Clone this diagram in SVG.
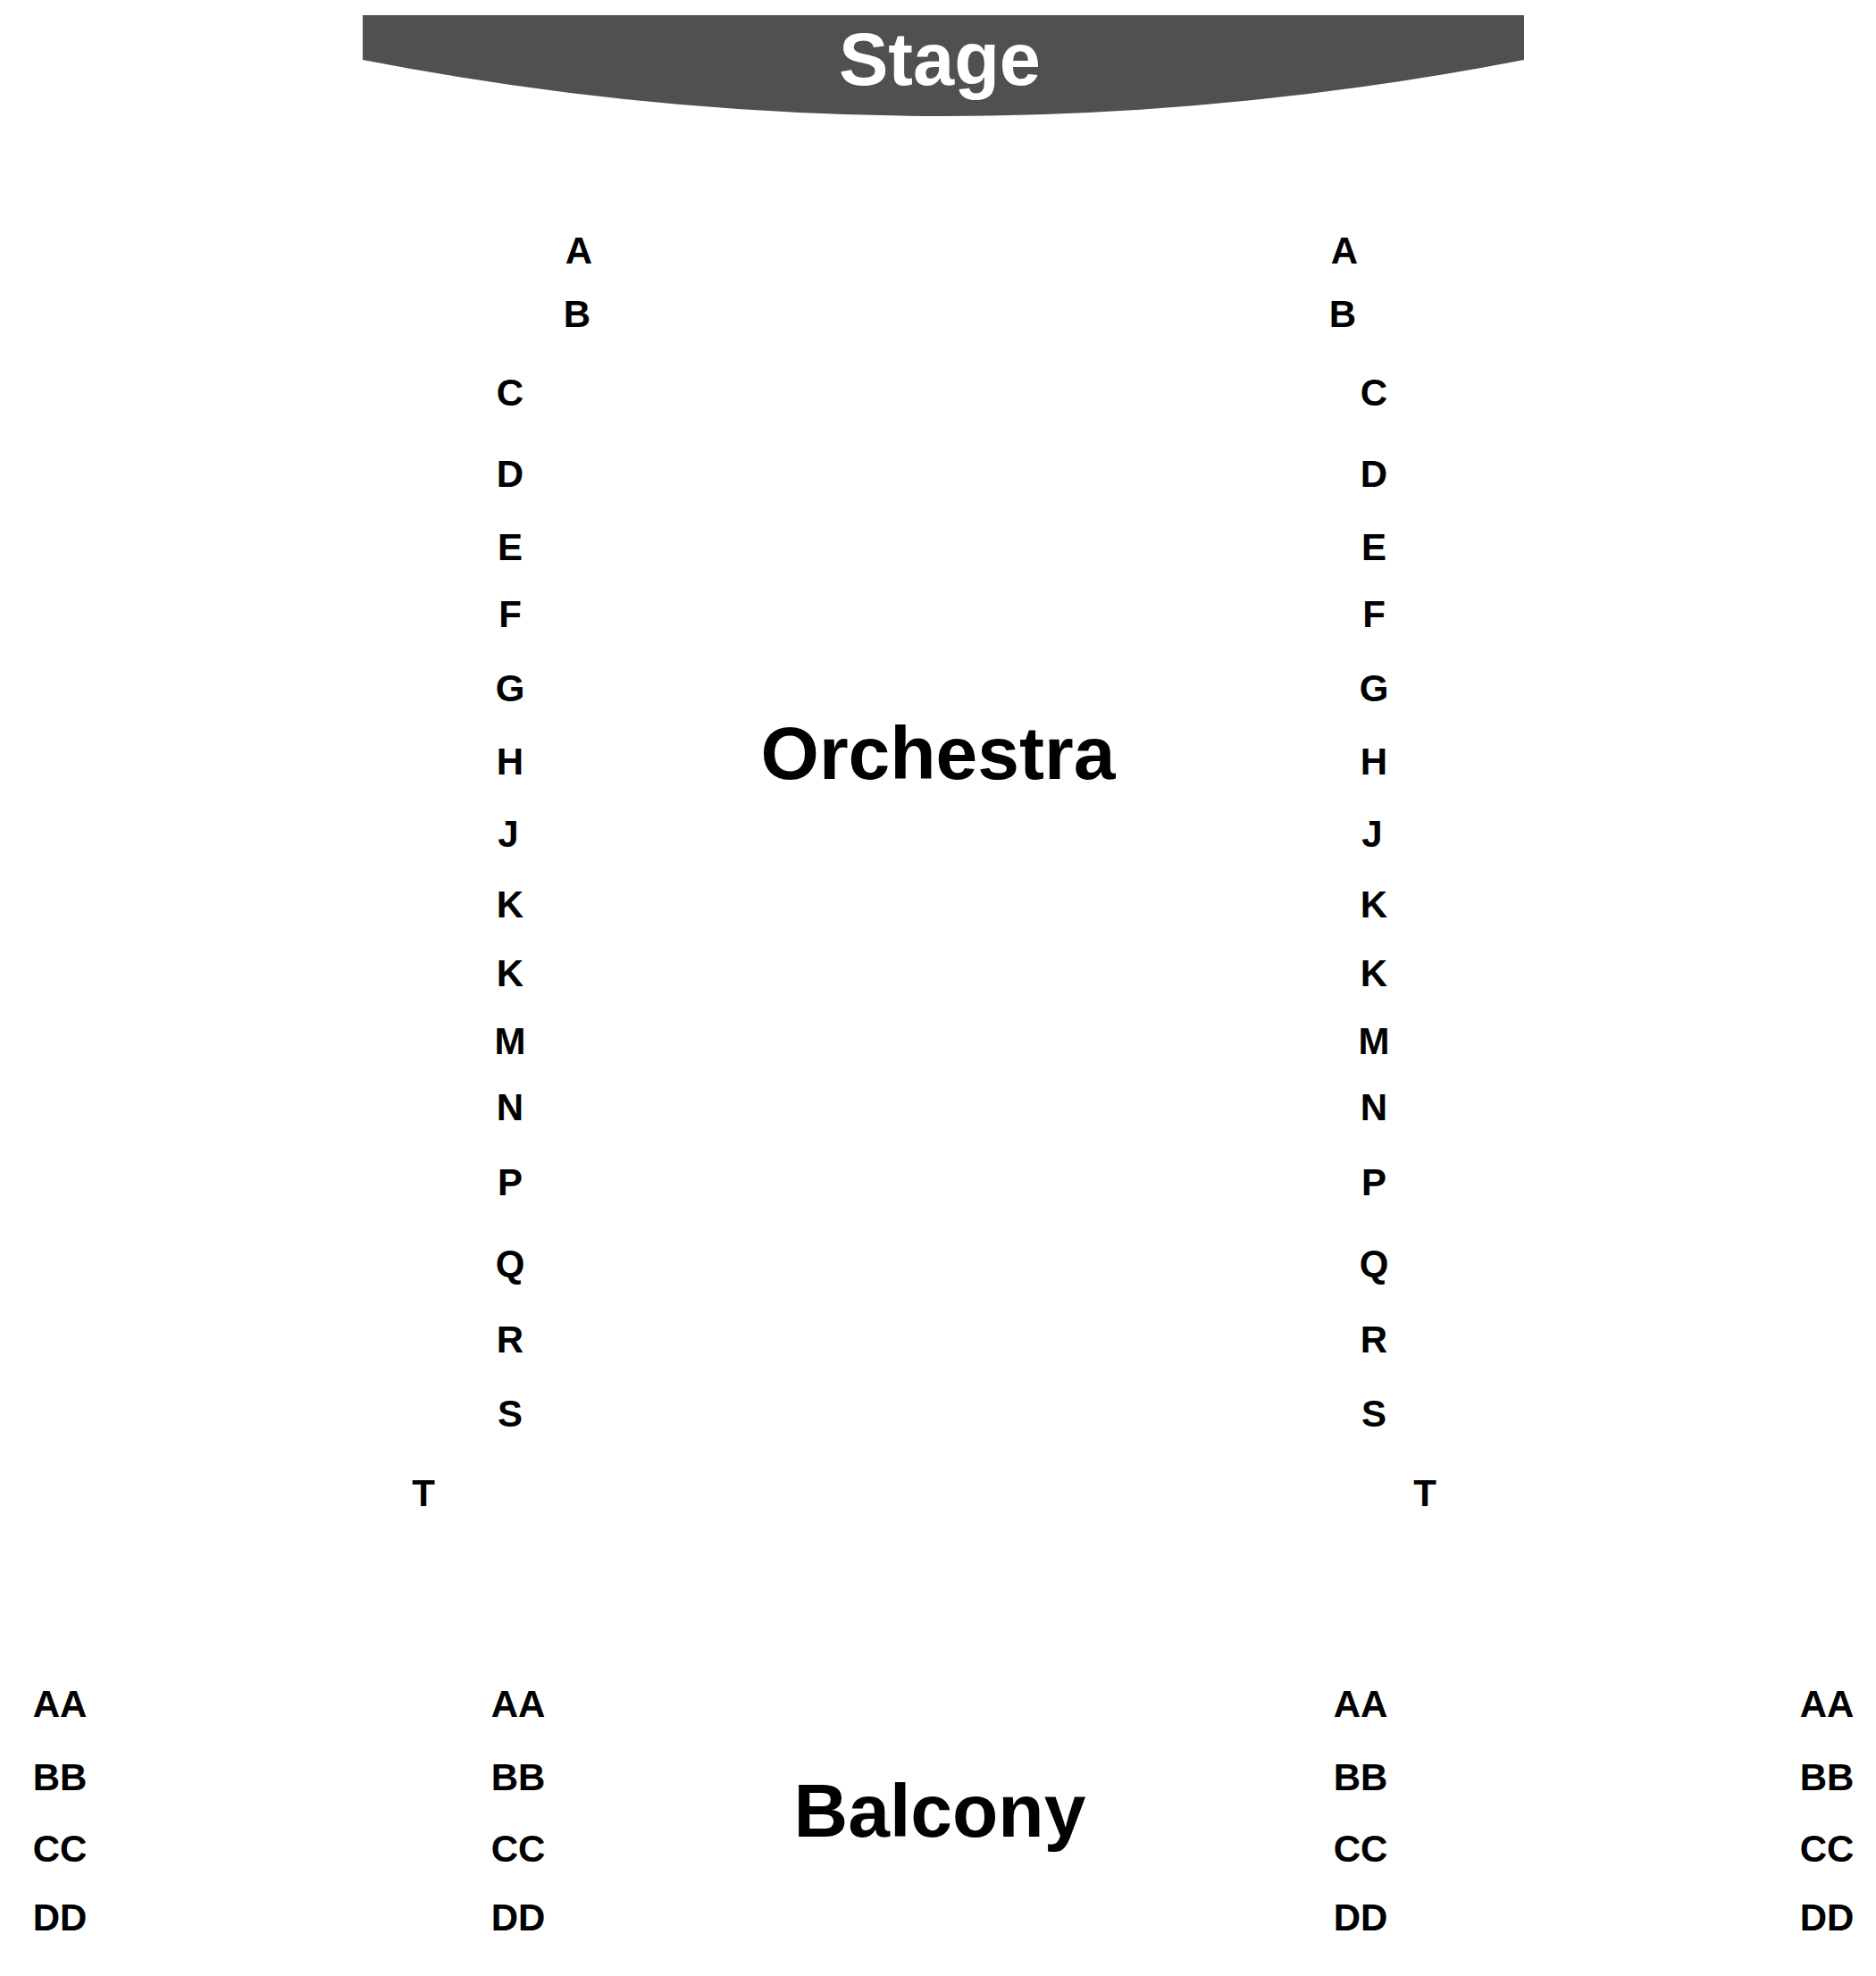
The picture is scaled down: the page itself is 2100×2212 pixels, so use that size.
<svg xmlns="http://www.w3.org/2000/svg" width="2100" height="2212" viewBox="0 0 2100 2212">
<style>
.row{font-family:"Liberation Sans",Arial,sans-serif;font-weight:bold;font-size:42px;fill:#000;text-anchor:middle}
.big{font-family:"Liberation Sans",Arial,sans-serif;font-weight:bold;font-size:84px;fill:#000;text-anchor:middle}
.stg{font-family:"Liberation Sans",Arial,sans-serif;font-weight:bold;font-size:83px;fill:#fff;text-anchor:middle}
</style>
<rect width="2100" height="2212" fill="#fff"/>
<g id="stage">
<path d="M406,17 H1706 V67 Q1056,193 406,67 Z" fill="#505050"/>
<text class="stg" x="1052" y="95">Stage</text>
</g>
<g id="orchestra">
<text class="big" x="1050" y="872">Orchestra</text>
</g>
<g id="balcony">
<text class="big" x="1052" y="2056">Balcony</text>
</g>
<g id="orchestra-left-rows">
<text class="row" x="648" y="295">A</text>
<text class="row" x="646" y="366">B</text>
<text class="row" x="571" y="454">C</text>
<text class="row" x="571" y="545">D</text>
<text class="row" x="571" y="627">E</text>
<text class="row" x="571" y="702">F</text>
<text class="row" x="571" y="785">G</text>
<text class="row" x="571" y="867">H</text>
<text class="row" x="569" y="948">J</text>
<text class="row" x="571" y="1027">K</text>
<text class="row" x="571" y="1104">K</text>
<text class="row" x="571" y="1180">M</text>
<text class="row" x="571" y="1254">N</text>
<text class="row" x="571" y="1338">P</text>
<text class="row" x="571" y="1429">Q</text>
<text class="row" x="571" y="1514">R</text>
<text class="row" x="571" y="1597">S</text>
<text class="row" x="474" y="1686">T</text>
</g>
<g id="orchestra-right-rows">
<text class="row" x="1505" y="295">A</text>
<text class="row" x="1503" y="366">B</text>
<text class="row" x="1538" y="454">C</text>
<text class="row" x="1538" y="545">D</text>
<text class="row" x="1538" y="627">E</text>
<text class="row" x="1538" y="702">F</text>
<text class="row" x="1538" y="785">G</text>
<text class="row" x="1538" y="867">H</text>
<text class="row" x="1536" y="948">J</text>
<text class="row" x="1538" y="1027">K</text>
<text class="row" x="1538" y="1104">K</text>
<text class="row" x="1538" y="1180">M</text>
<text class="row" x="1538" y="1254">N</text>
<text class="row" x="1538" y="1338">P</text>
<text class="row" x="1538" y="1429">Q</text>
<text class="row" x="1538" y="1514">R</text>
<text class="row" x="1538" y="1597">S</text>
<text class="row" x="1595" y="1686">T</text>
</g>
<g id="balcony-rows-1">
<text class="row" x="67" y="1922">AA</text>
<text class="row" x="67" y="2004">BB</text>
<text class="row" x="67" y="2084">CC</text>
<text class="row" x="67" y="2161">DD</text>
</g>
<g id="balcony-rows-2">
<text class="row" x="580" y="1922">AA</text>
<text class="row" x="580" y="2004">BB</text>
<text class="row" x="580" y="2084">CC</text>
<text class="row" x="580" y="2161">DD</text>
</g>
<g id="balcony-rows-3">
<text class="row" x="1523" y="1922">AA</text>
<text class="row" x="1523" y="2004">BB</text>
<text class="row" x="1523" y="2084">CC</text>
<text class="row" x="1523" y="2161">DD</text>
</g>
<g id="balcony-rows-4">
<text class="row" x="2045" y="1922">AA</text>
<text class="row" x="2045" y="2004">BB</text>
<text class="row" x="2045" y="2084">CC</text>
<text class="row" x="2045" y="2161">DD</text>
</g>
<g id="connectors"></g>
</svg>
